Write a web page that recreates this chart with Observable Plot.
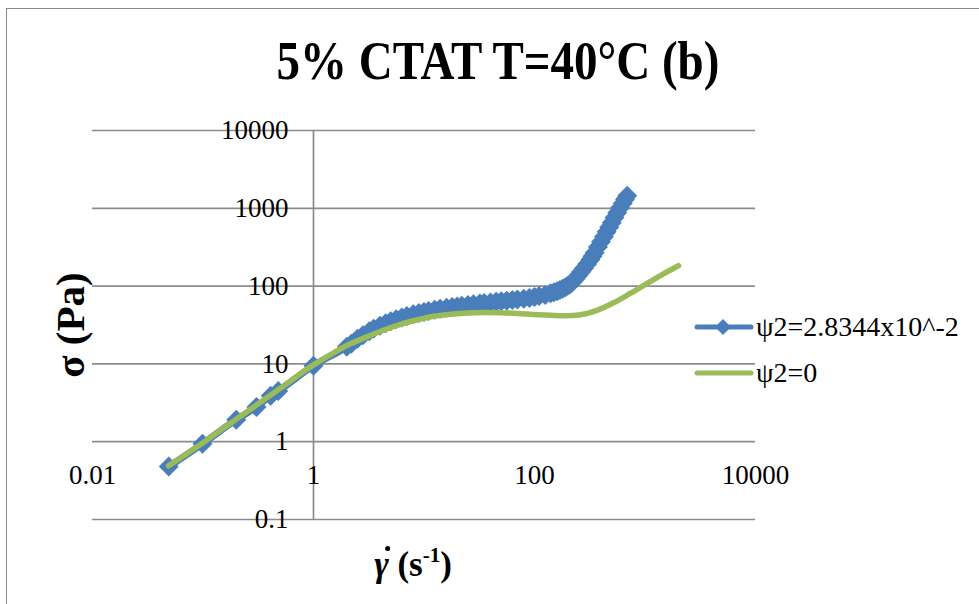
<!DOCTYPE html>
<html><head><meta charset="utf-8">
<script src="https://cdn.jsdelivr.net/npm/d3@7"></script>
<script src="https://cdn.jsdelivr.net/npm/@observablehq/plot@0.6"></script>
<style>
body{margin:0;background:#fff;}
#wrap{position:relative;width:979px;height:604px;overflow:hidden;font-family:"Liberation Serif",serif;color:#000;}
#border{position:absolute;left:6px;top:8px;width:1000px;height:700px;border-top:1.5px solid #8a8a8a;border-left:1.5px solid #8a8a8a;}
#chart{position:absolute;left:0;top:0;}
#title{position:absolute;left:498px;top:30px;white-space:nowrap;font-weight:bold;font-size:54px;transform:translateX(-50%) scaleX(0.87);}
#ylab{position:absolute;left:70px;top:325px;white-space:nowrap;font-weight:bold;font-size:41px;transform:translate(-50%,-50%) rotate(-90deg);}
#xlab{position:absolute;left:413px;top:565px;white-space:nowrap;font-weight:bold;font-size:35px;transform:translate(-50%,-50%);}
#xlab sup{font-size:21px;vertical-align:top;position:relative;top:-2px;}
.g{position:relative;display:inline-block;font-style:italic;}
.g::after{content:"";position:absolute;left:0.3em;top:0.02em;width:5px;height:5px;border-radius:50%;background:#000;}
.leg{position:absolute;left:694px;height:30px;display:flex;align-items:center;white-space:nowrap;font-size:28px;}
.leg svg{margin-right:2px;}
</style></head>
<body>
<div id="wrap">
  <div id="border"></div>
  <div id="chart"></div>
  <div id="title">5% CTAT T=40°C (b)</div>
  <div id="ylab">σ (Pa)</div>
  <div id="xlab"><span class="g">γ</span> (s<sup>-1</sup>)</div>
  <div class="leg" id="leg0" style="top:312px"></div>
  <div class="leg" id="leg1" style="top:358px"></div>
</div>
<script>
const xTicks = [0.01, 1, 100, 10000];
const xTickLabels = ["0.01", "1", "100", "10000"];
const yTicks = [0.1, 1, 10, 100, 1000, 10000];
const yTickLabels = ["0.1", "1", "10", "100", "1000", "10000"];
const seriesNames = ["ψ2=2.8344x10^-2", "ψ2=0"];
const seriesColors = ["#4A7EBB", "#9BBB59"];

const blueX = [0.049, 0.099, 0.2, 0.305, 0.41, 0.48, 1.0, 2, 2.2, 2.5, 2.8, 3.2, 3.5, 4, 4.5, 5, 5.6, 6.3, 7, 8, 9, 10, 11, 12.5, 14, 16, 18, 20, 22, 25, 28, 32, 35, 40, 45, 50, 56, 63, 70, 80, 90, 100, 110, 125, 140, 150, 160, 170, 180, 190, 200, 210, 220, 235, 250, 265, 280, 300, 320, 335, 350, 375, 400, 425, 450, 475, 500, 530, 560, 595, 630, 660, 690];
const blueY = [0.48, 0.94, 1.92, 2.8, 3.9, 4.5, 9.5, 16.6, 18.2, 21.1, 23.4, 26.3, 28.3, 31, 33.4, 35.4, 37.6, 39.6, 41.4, 43.6, 45.1, 46.5, 47.7, 49.5, 51, 52.5, 53.7, 54.8, 56, 57.3, 58.3, 59.7, 60.6, 61.7, 63, 64, 64.9, 66.1, 67.3, 68.9, 70.5, 72.4, 74.4, 76.9, 81, 83.3, 86, 89, 92.6, 96.5, 101, 106, 112, 124, 138, 153, 170, 192, 218, 242, 269, 318, 372, 432, 500, 572, 653, 760, 878, 1015, 1163, 1305, 1452];

const greenX = [0.0487, 0.1, 0.2, 0.5, 1, 1.52, 2.16, 3.08, 4.39, 6.13, 8.73, 12.2, 17.4, 24.8, 34.5, 49.2, 70.2, 98, 140, 191, 261, 372, 519, 740, 1054, 1469, 2010];
const greenY = [0.49, 0.97, 1.95, 4.85, 9.7, 13.9, 18.1, 22.4, 27.5, 32.3, 36.9, 41, 43.5, 45.2, 45.8, 45.5, 44.6, 43.3, 42.3, 41.6, 42.8, 49, 61, 81, 109, 144, 183];

const blue = blueX.map((x, i) => ({x, y: blueY[i]}));
const green = greenX.map((x, i) => ({x, y: greenY[i]}));

// square diamond (rotated square), half-diagonal = r
const diamond = {draw(ctx, size) { const h = Math.sqrt(size / Math.PI); ctx.moveTo(0, -h); ctx.lineTo(h, 0); ctx.lineTo(0, h); ctx.lineTo(-h, 0); ctx.closePath(); }};

const grid = "#8c8c8c";
const chart = Plot.plot({
  width: 979, height: 604,
  marginLeft: 92, marginRight: 224, marginTop: 130, marginBottom: 85,
  style: {fontFamily: "Liberation Serif", background: "transparent", overflow: "visible"},
  x: {type: "log", domain: [0.01, 10000], axis: null},
  y: {type: "log", domain: [0.1, 10000], axis: null},
  marks: [
    Plot.ruleY(yTicks, {stroke: grid, strokeWidth: 1.7}),
    Plot.ruleX([1], {stroke: grid, strokeWidth: 1.7}),
    Plot.text(yTicks, {x: () => 1, y: d => d, text: (d, i) => yTickLabels[i], textAnchor: "end", dx: -25, fontSize: 27, fill: "#000"}),
    Plot.text(xTicks, {x: d => d, y: () => 1, text: (d, i) => xTickLabels[i], dy: 34, fontSize: 27, fill: "#000"}),
    Plot.line(blue, {x: "x", y: "y", stroke: seriesColors[0], strokeWidth: 7, curve: "monotone-x"}),
    Plot.dot(blue, {x: "x", y: "y", symbol: diamond, r: 10, fill: seriesColors[0], stroke: null}),
    Plot.line(green, {x: "x", y: "y", stroke: seriesColors[1], strokeWidth: 5.5, curve: "monotone-x", strokeLinecap: "round"})
  ]
});
document.getElementById("chart").append(chart);

// legend
function swatch(color, marker) {
  const ns = "http://www.w3.org/2000/svg";
  const s = document.createElementNS(ns, "svg");
  s.setAttribute("width", 60); s.setAttribute("height", 20);
  const l = document.createElementNS(ns, "line");
  l.setAttribute("x1", 3); l.setAttribute("x2", 57); l.setAttribute("y1", 10); l.setAttribute("y2", 10);
  l.setAttribute("stroke", color); l.setAttribute("stroke-width", 5); l.setAttribute("stroke-linecap", "round");
  s.append(l);
  if (marker) {
    const p = document.createElementNS(ns, "path");
    p.setAttribute("d", "M29,2L37,10L29,18L21,10Z");
    p.setAttribute("fill", color);
    s.append(p);
  }
  return s;
}
seriesNames.forEach((name, i) => {
  const el = document.getElementById("leg" + i);
  el.append(swatch(seriesColors[i], i === 0));
  const t = document.createElement("span"); t.textContent = name; el.append(t);
});
</script>
</body></html>
